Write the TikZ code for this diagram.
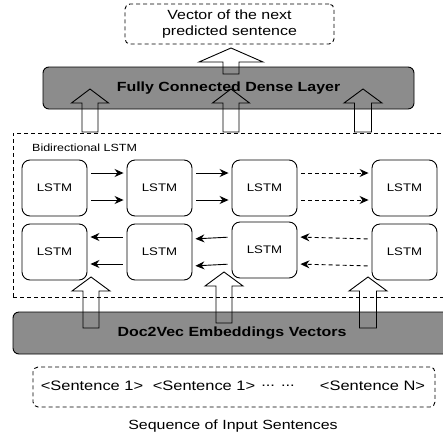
\documentclass[tikz,border=0pt]{standalone}
\usepackage{fontspec}
\setmainfont{Liberation Sans}[FakeStretch=1.2]
\usetikzlibrary{arrows.meta}

\tikzset{
  lstm/.style={draw, line width=0.9pt, rounded corners=8pt, minimum width=65pt, minimum height=56pt, inner sep=0pt, font=\fontsize{11}{13}\selectfont},
  layer/.style={draw, line width=0.9pt, fill=black!45, rounded corners=6pt, inner sep=0pt, font=\bfseries\fontsize{13.3}{15}\selectfont},
  dashbox/.style={draw, line width=0.9pt, dash pattern=on 4pt off 3pt, inner sep=0pt},
  link/.style={line width=0.9pt, -{Stealth[length=9pt,width=8pt]}, shorten <=4pt, shorten >=3pt},
  dlink/.style={link, dash pattern=on 4pt off 3pt}
}

% hollow up arrow: x centre, tip y, bottom y, head half width, shaft half width
\newcommand{\hollowup}[5]{%
  \draw[line width=0.9pt] (#1-#5,#3) -- (#1-#5,#2+14) -- (#1-#4,#2+14) -- (#1,#2)
    -- (#1+#4,#2+14) -- (#1+#5,#2+14) -- (#1+#5,#3) -- cycle;}

\begin{document}
\begin{tikzpicture}[x=1pt,y=-1pt]
  \clip (0,0) rectangle (443,434);

  % Output
  \node[dashbox, rounded corners=5pt, minimum width=209pt, minimum height=40pt, align=center,
    font=\fontsize{13.3}{16}\selectfont] (out) at (229.5,24) {Vector of the next\\predicted sentence};

  % Dense layer
  \node[layer, minimum width=371pt, minimum height=42pt] (dense) at (228.5,88) {Fully Connected Dense Layer};

  % Bidirectional LSTM
  \node[dashbox, minimum width=440pt, minimum height=164pt] (bilstm) at (233,215) {};
  \node[anchor=west, inner sep=0pt, font=\fontsize{10.4}{12}\selectfont] (bilabel) at (32,148) {Bidirectional LSTM};

  \node[lstm] (f1) at (54.5,188) {LSTM};
  \node[lstm] (f2) at (159.5,188) {LSTM};
  \node[lstm] (f3) at (264.5,188) {LSTM};
  \node[lstm] (f4) at (404.5,188) {LSTM};
  \node[lstm] (b1) at (54.5,252) {LSTM};
  \node[lstm] (b2) at (159.5,252) {LSTM};
  \node[lstm] (b3) at (264.5,250) {LSTM};
  \node[lstm] (b4) at (404.5,252) {LSTM};

  % forward
  \draw[link] ([yshift=15pt]f1.east) -- ([yshift=15pt]f2.west);
  \draw[link] ([yshift=-12pt]f1.east) -- ([yshift=-12pt]f2.west);
  \draw[link] ([yshift=15pt]f2.east) -- ([yshift=15pt]f3.west);
  \draw[link] ([yshift=-12pt]f2.east) -- ([yshift=-12pt]f3.west);
  \draw[dlink] ([yshift=15pt]f3.east) -- ([yshift=15pt]f4.west);
  \draw[dlink] ([yshift=-12pt]f3.east) -- ([yshift=-12pt]f4.west);

  % backward
  \draw[link] ([yshift=15pt]b2.west) -- ([yshift=15pt]b1.east);
  \draw[link] ([yshift=-12pt]b2.west) -- ([yshift=-12pt]b1.east);
  \draw[link] ([yshift=13pt]b3.west) -- ([yshift=13pt]b2.east);
  \draw[link] ([yshift=-14pt]b3.west) -- ([yshift=-14pt]b2.east);
  \draw[dlink] ([yshift=13pt]b4.west) -- ([yshift=13pt]b3.east);
  \draw[dlink] ([yshift=-14pt]b4.west) -- ([yshift=-14pt]b3.east);

  % Embeddings
  \node[layer, minimum width=440pt, minimum height=42pt] (emb) at (233,333) {};
  \node[font=\bfseries\fontsize{13.3}{15}\selectfont, inner sep=0pt] (embtext) at (232,333) {Doc2Vec Embeddings Vectors};

  % Input sentences
  \node[dashbox, rounded corners=5pt, minimum width=402pt, minimum height=40pt] (inp) at (234,387) {};
  \node[font=\fontsize{13.7}{16}\selectfont, inner sep=0pt] (s1) at (92,386) {<Sentence 1>};
  \node[font=\fontsize{13.7}{16}\selectfont, inner sep=0pt] (s2) at (204,386) {<Sentence 1>};
  \node[font=\fontsize{13.7}{16}\selectfont, inner sep=0pt] (dots) at (278,386) {... ...};
  \node[font=\fontsize{13.7}{16}\selectfont, inner sep=0pt] (sn) at (372.5,386) {<Sentence N>};
  \node[font=\fontsize{13.3}{16}\selectfont, inner sep=0pt] (caption) at (233,426) {Sequence of Input Sentences};

  % Hollow arrows
  \hollowup{231}{48}{74}{32}{8}
  \hollowup{90}{89}{132}{18.5}{8}
  \hollowup{231}{89}{132}{18.5}{8}
  \hollowup{363}{89}{132}{19}{8.5}
  \hollowup{91}{277}{328}{19}{8}
  \hollowup{224}{272}{323}{19}{8}
  \hollowup{368}{277}{328}{19}{8.5}

\end{tikzpicture}
\end{document}
